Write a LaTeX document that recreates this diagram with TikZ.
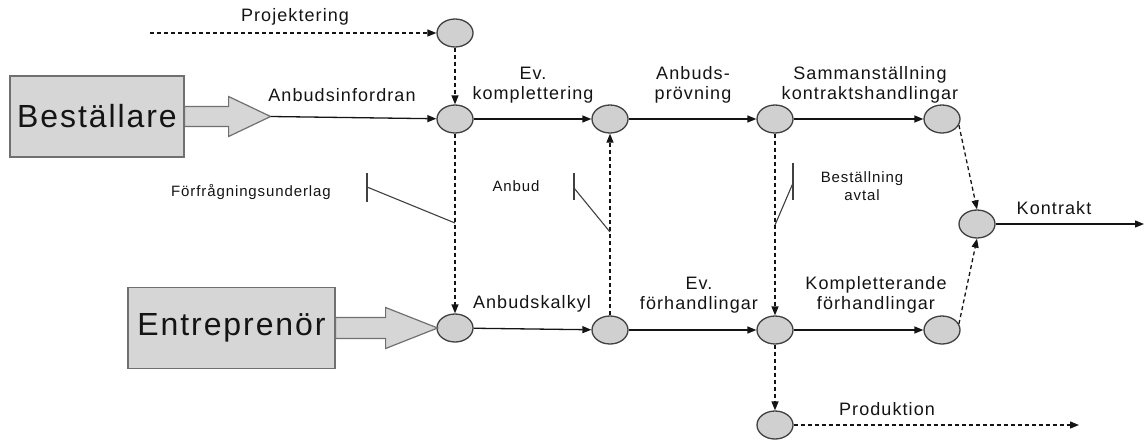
\documentclass[tikz,border=0pt]{standalone}
\usepackage{fontspec}
\usepackage{tikz}
\usetikzlibrary{calc,arrows.meta,shapes.geometric}
\newfontfamily\labfont[LetterSpace=6]{Liberation Sans}
\definecolor{ink}{HTML}{141414}
\definecolor{evfill}{HTML}{D0D0D0}
\definecolor{evedge}{HTML}{404040}
\definecolor{boxfill}{HTML}{D6D6D6}
\definecolor{boxedge}{HTML}{707070}
\tikzset{
  ev/.style={ellipse, draw=evedge, fill=evfill, line width=1.3pt, minimum width=36pt, minimum height=28pt, inner sep=0pt},
  party/.style={rectangle, draw=boxedge, fill=boxfill, line width=1.2pt, text=ink, inner sep=0pt, font=\labfont\fontsize{32}{36}\selectfont},
  fat/.style={draw=boxedge, fill=boxfill, line width=1.2pt, line join=miter},
  flow/.style={draw=ink, line width=1.3pt, -{Triangle[length=9pt,width=7pt]}},
  dflow/.style={flow, dash pattern=on 4pt off 3pt},
  gate/.style={draw=evedge, line width=1.1pt},
  lab/.style={text=ink, align=center, font=\labfont\fontsize{18}{20}\selectfont},
  labs/.style={text=ink, align=center, font=\labfont\fontsize{15}{18}\selectfont},
}
\begin{document}
\begin{tikzpicture}[x=1pt,y=-1pt]
\useasboundingbox (0,0) rectangle (1145,439);

% parties
\node[party, minimum width=174pt, minimum height=81pt] (best) at (97,116.5) {Beställare};
\node[party, minimum width=207pt, minimum height=81pt] (ent) at (231.5,328) {Entreprenör};

% events
\foreach \n/\x/\y in {p/455/33, b1/455/119, b2/610/119, b3/775/119, b4/942/119,
                      k/977/224, e1/455/328, e2/610/330, e3/775/330, e4/942/330, pr/775/425}{
  \node[ev] (\n) at (\x,\y) {};
}

% fat arrows out of the parties
\draw[fat] ($(best.east)+(0,-10)$) -- ++(44,0) -- ++(0,-10) -- ++(42,20)
  -- ++(-42,20) -- ++(0,-10) -- ++(-44,0) -- cycle;
\coordinate (btip) at ($(best.east)+(86,0)$);
\draw[fat] ($(ent.east)+(0,-10.5)$) -- ++(50,0) -- ++(0,-10) -- ++(52,20.5)
  -- ++(-52,20.5) -- ++(0,-10) -- ++(-50,0) -- cycle;

% free ends
\coordinate (projin) at (150,33);
\coordinate (kout) at (1144,224);
\coordinate (prout) at (1079,425);

% solid flows
\draw[flow] (btip) -- (b1);
\foreach \a/\b in {b1/b2, b2/b3, b3/b4, e1/e2, e2/e3, e3/e4}{
  \draw[flow] (\a) -- (\b);
}
\draw[flow] (k) -- (kout);

% dashed flows
\draw[dflow] (projin) -- (p);
\draw[dflow] (p) -- (b1);
\draw[dflow] (b1) -- (e1);
\draw[dflow] (e2) -- (b2);
\draw[dflow] (b3) -- (e3);
\draw[dflow] (e3) -- (pr);
\draw[dflow] (pr) -- (prout);
\draw[dflow] (b4.-20) -- (k.north);
\draw[dflow] (e4.20) -- (k.south);

% document gates
\coordinate (g1) at (455,223);
\coordinate (g2) at (610,232);
\coordinate (g3) at (775,225);
\draw[gate] (367,173) -- (367,202);
\draw[gate] (367,187) -- (g1);
\draw[gate] (574,173) -- (574,200);
\draw[gate] (574,188) -- (g2);
\draw[gate] (793,163) -- (793,200);
\draw[gate] (793,183) -- (g3);

% labels
\node[lab] at (295,17) {Projektering};
\node[lab] at (342,95) {Anbudsinfordran};
\node[lab] at (533,85) {Ev.\\komplettering};
\node[lab] at (693,85) {Anbuds-\\prövning};
\node[lab] at (870,85) {Sammanställning\\kontraktshandlingar};
\node[lab] at (1054,208) {Kontrakt};
\node[lab] at (532,304) {Anbudskalkyl};
\node[lab] at (699,295) {Ev.\\förhandlingar};
\node[lab] at (876,295) {Kompletterande\\förhandlingar};
\node[lab] at (887,409) {Produktion};
\node[labs] at (251,192) {Förfrågningsunderlag};
\node[labs] at (516,186) {Anbud};
\node[labs] at (862,186) {Beställning\\avtal};
\end{tikzpicture}
\end{document}
